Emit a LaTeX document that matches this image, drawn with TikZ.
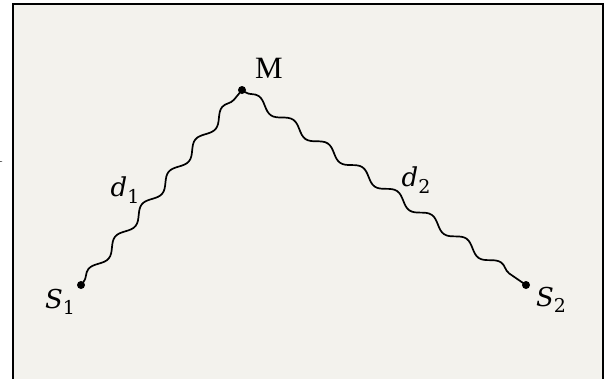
\RequirePackage{fix-cm}
\documentclass[tikz,border=0pt]{standalone}
\usepackage{fontspec}
\setmainfont{Liberation Serif}
\newfontfamily\labfont{DejaVu Serif}
\usetikzlibrary{decorations.pathmorphing}
\definecolor{paper}{HTML}{F3F2ED}
\newcommand\symlab[2]{{\labfont\itshape #1}\raisebox{-0.25em}{\labfont\fontsize{19}{21}\selectfont #2}}
\tikzset{
  wave/.style={line width=1.7pt, decorate, decoration={snake, segment length=42pt, amplitude=4.5pt, pre length=4pt, post length=4pt}},
  pt/.style={circle, fill=black, inner sep=0pt, minimum size=8pt},
  lbl/.style={inner sep=0pt, font=\fontsize{26}{30}\selectfont},
}
\begin{document}
\begin{tikzpicture}[x=1pt, y=-1pt]
\useasboundingbox (0,0) rectangle (605,378);
\draw[line width=2pt, fill=paper] (13,4) rectangle (603,392);
\node[lbl, font=\fontsize{18}{20}\selectfont] (cut) at (-1,157) {1};
\node[pt] (S1) at (81,285) {};
\node[pt] (M) at (242,90) {};
\node[pt] (S2) at (526,285) {};
\draw[wave] (S1.center) -- (M.center);
\draw[wave] (M.center) -- (S2.center);
\node[lbl, font=\fontsize{31}{35}\selectfont] (lM) at (269,68) {M};
\node[lbl] (ld1) at (125,190) {\symlab{d}{1}};
\node[lbl] (ld2) at (416,180) {\symlab{d}{2}};
\node[lbl] (lS1) at (60,302) {\symlab{S}{1}};
\node[lbl] (lS2) at (551,300) {\symlab{S}{2}};
\end{tikzpicture}
\end{document}
